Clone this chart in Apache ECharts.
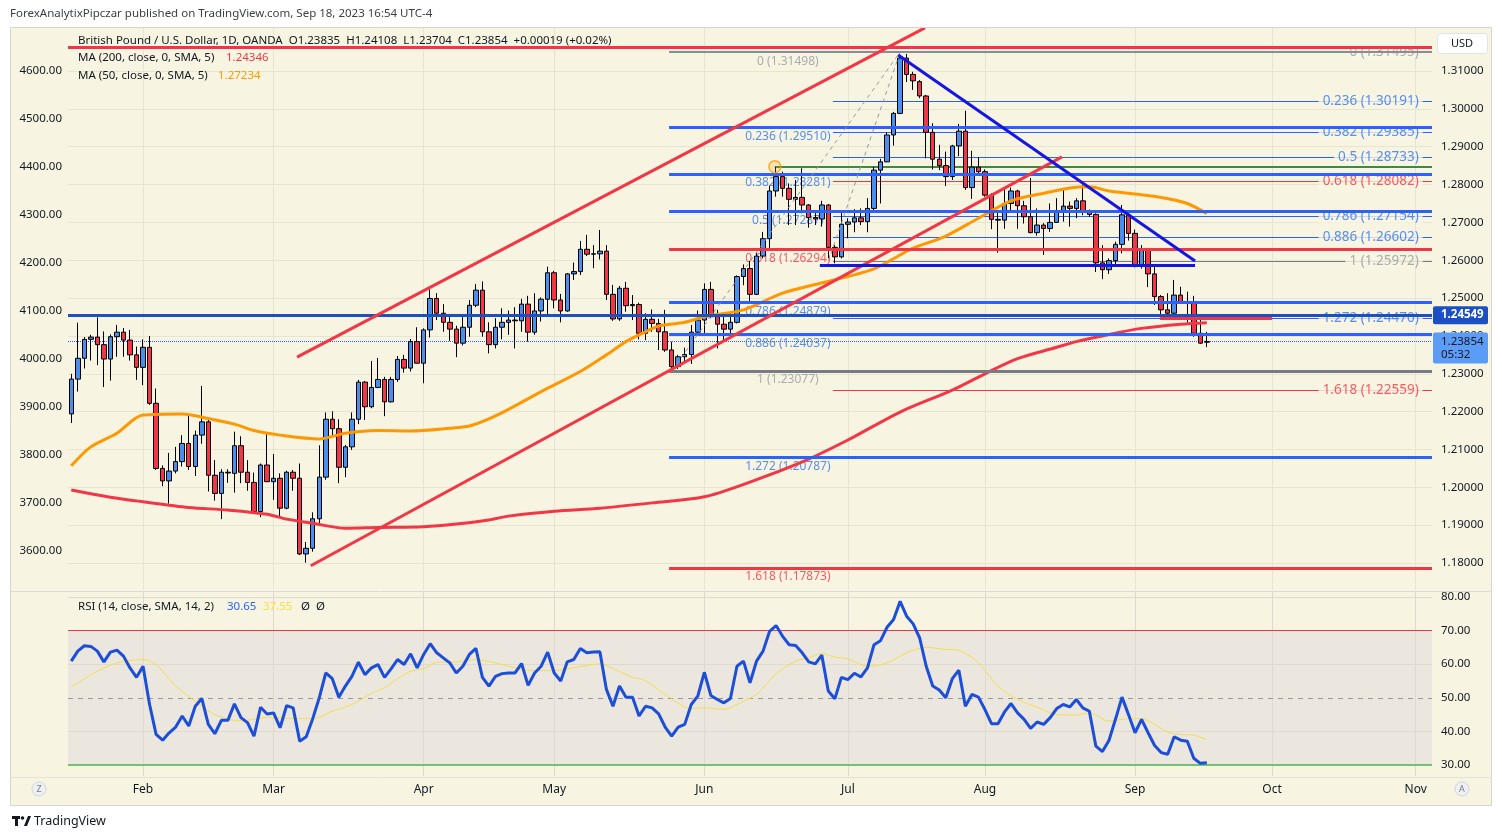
<!DOCTYPE html>
<html>
<head>
<meta charset="utf-8">
<script src="https://cdn.jsdelivr.net/npm/echarts@6/dist/echarts.min.js"></script>
<style>
  html, body { margin: 0; padding: 0; background: #fff; }
  #chart { width: 1502px; height: 839px; }
</style>
</head>
<body>
<div id="chart"></div>
<script>
// daily bars GBP/USD, [open, high, low, close], Jan 17 2023 -> Sep 18 2023
const ohlc = [
  [1.2194,1.2300,1.2170,1.2286],[1.2286,1.2435,1.2253,1.2341],[1.2341,1.2397,1.2314,1.2391],[1.2391,1.2403,1.2335,1.2397],
  [1.2397,1.2449,1.2323,1.2377],[1.2377,1.2412,1.2265,1.2339],[1.2339,1.2404,1.2282,1.2398],[1.2398,1.2429,1.2345,1.2410],
  [1.2410,1.2421,1.2345,1.2389],[1.2389,1.2416,1.2335,1.2350],[1.2350,1.2372,1.2284,1.2317],[1.2317,1.2391,1.2270,1.2370],
  [1.2370,1.2400,1.2218,1.2222],[1.2222,1.2261,1.2046,1.2050],[1.2050,1.2058,1.2003,1.2017],[1.2017,1.2091,1.1957,1.2043],
  [1.2043,1.2107,1.2037,1.2068],[1.2068,1.2138,1.2055,1.2116],[1.2116,1.2191,1.2046,1.2055],[1.2055,1.2150,1.2030,1.2138],
  [1.2138,1.2268,1.2115,1.2173],[1.2173,1.2180,1.1989,1.2032],[1.2032,1.2072,1.1965,1.1984],[1.1984,1.2048,1.1916,1.2040],
  [1.2040,1.2048,1.2012,1.2038],[1.2037,1.2147,1.1986,1.2110],[1.2110,1.2135,1.2011,1.2040],[1.2040,1.2072,1.1991,1.2013],
  [1.2013,1.2039,1.1931,1.1936],[1.1936,1.2063,1.1921,1.2059],[1.2059,1.2141,1.2015,1.2015],[1.2015,1.2088,1.1967,1.2024],
  [1.2024,1.2037,1.1923,1.1945],[1.1945,1.2044,1.1942,1.2040],[1.2040,1.2046,1.1991,1.2024],[1.2024,1.2063,1.1821,1.1824],
  [1.1824,1.1856,1.1801,1.1839],[1.1839,1.1934,1.1830,1.1917],[1.1917,1.2111,1.1903,1.2027],[1.2027,1.2198,1.2020,1.2180],
  [1.2180,1.2201,1.2134,1.2155],[1.2155,1.2180,1.2011,1.2053],[1.2053,1.2112,1.2027,1.2107],[1.2107,1.2198,1.2099,1.2180],
  [1.2180,1.2284,1.2167,1.2278],[1.2278,1.2281,1.2178,1.2213],[1.2213,1.2334,1.2209,1.2264],[1.2264,1.2342,1.2262,1.2285],
  [1.2285,1.2292,1.2188,1.2226],[1.2226,1.2292,1.2224,1.2285],[1.2285,1.2347,1.2279,1.2338],[1.2338,1.2350,1.2303,1.2315],
  [1.2315,1.2392,1.2306,1.2385],[1.2385,1.2423,1.2328,1.2328],[1.2328,1.2420,1.2275,1.2416],[1.2416,1.2523,1.2396,1.2499],
  [1.2499,1.2513,1.2442,1.2460],[1.2460,1.2484,1.2411,1.2436],[1.2436,1.2451,1.2387,1.2418],[1.2418,1.2427,1.2344,1.2381],
  [1.2381,1.2455,1.2375,1.2423],[1.2423,1.2495,1.2398,1.2481],[1.2481,1.2537,1.2476,1.2521],[1.2521,1.2544,1.2398,1.2411],
  [1.2411,1.2436,1.2354,1.2377],[1.2377,1.2447,1.2367,1.2423],[1.2423,1.2473,1.2391,1.2436],[1.2436,1.2467,1.2403,1.2442],
  [1.2442,1.2476,1.2367,1.2440],[1.2440,1.2498,1.2411,1.2484],[1.2484,1.2506,1.2385,1.2410],[1.2410,1.2513,1.2403,1.2466],
  [1.2466,1.2502,1.2438,1.2497],[1.2497,1.2583,1.2451,1.2567],[1.2567,1.2572,1.2473,1.2495],[1.2495,1.2511,1.2436,1.2466],
  [1.2466,1.2566,1.2464,1.2564],[1.2564,1.2594,1.2548,1.2570],[1.2570,1.2651,1.2561,1.2629],[1.2629,1.2667,1.2611,1.2616],
  [1.2616,1.2640,1.2579,1.2617],[1.2617,1.2680,1.2602,1.2624],[1.2624,1.2640,1.2495,1.2510],[1.2510,1.2535,1.2440,1.2445],
  [1.2445,1.2532,1.2440,1.2526],[1.2526,1.2543,1.2464,1.2480],[1.2480,1.2508,1.2442,1.2483],[1.2483,1.2488,1.2391,1.2407],
  [1.2407,1.2460,1.2389,1.2444],[1.2444,1.2470,1.2411,1.2433],[1.2433,1.2445,1.2363,1.2411],[1.2411,1.2469,1.2358,1.2363],
  [1.2363,1.2385,1.2310,1.2319],[1.2319,1.2350,1.2313,1.2345],[1.2345,1.2369,1.2332,1.2351],[1.2351,1.2429,1.2326,1.2410],
  [1.2410,1.2467,1.2401,1.2442],[1.2442,1.2539,1.2403,1.2523],[1.2523,1.2543,1.2447,1.2451],[1.2451,1.2469,1.2367,1.2431],
  [1.2431,1.2451,1.2389,1.2418],[1.2418,1.2460,1.2402,1.2436],[1.2436,1.2560,1.2433,1.2557],[1.2557,1.2589,1.2534,1.2578],
  [1.2578,1.2598,1.2486,1.2510],[1.2510,1.2622,1.2508,1.2611],[1.2611,1.2675,1.2605,1.2657],[1.2657,1.2797,1.2630,1.2783],
  [1.2783,1.2847,1.2768,1.2821],[1.2821,1.2834,1.2768,1.2790],[1.2790,1.2803,1.2693,1.2761],[1.2761,1.2812,1.2693,1.2766],
  [1.2766,1.2843,1.2724,1.2746],[1.2746,1.2748,1.2686,1.2713],[1.2713,1.2728,1.2693,1.2709],[1.2709,1.2757,1.2689,1.2746],
  [1.2746,1.2748,1.2605,1.2634],[1.2634,1.2640,1.2592,1.2609],[1.2609,1.2728,1.2605,1.2695],[1.2695,1.2711,1.2658,1.2701],
  [1.2701,1.2735,1.2674,1.2712],[1.2712,1.2737,1.2693,1.2702],[1.2702,1.2764,1.2674,1.2737],[1.2737,1.2847,1.2728,1.2838],
  [1.2838,1.2868,1.2750,1.2860],[1.2860,1.2938,1.2859,1.2931],[1.2931,1.2992,1.2903,1.2988],[1.2988,1.3140,1.2986,1.3134],
  [1.3134,1.3145,1.3071,1.3091],[1.3091,1.3098,1.3050,1.3074],[1.3072,1.3076,1.3028,1.3034],[1.3034,1.3037,1.2869,1.2938],
  [1.2938,1.2962,1.2840,1.2867],[1.2867,1.2905,1.2838,1.2850],[1.2850,1.2887,1.2796,1.2821],[1.2821,1.2905,1.2812,1.2902],
  [1.2902,1.2960,1.2875,1.2941],[1.2941,1.2995,1.2786,1.2792],[1.2792,1.2889,1.2762,1.2846],[1.2846,1.2872,1.2828,1.2834],
  [1.2834,1.2840,1.2768,1.2772],[1.2772,1.2777,1.2682,1.2708],[1.2708,1.2726,1.2620,1.2706],[1.2706,1.2790,1.2683,1.2750],
  [1.2750,1.2792,1.2728,1.2783],[1.2783,1.2786,1.2683,1.2744],[1.2744,1.2757,1.2697,1.2715],[1.2715,1.2817,1.2671,1.2673],
  [1.2673,1.2737,1.2665,1.2693],[1.2693,1.2698,1.2614,1.2684],[1.2684,1.2750,1.2675,1.2700],[1.2700,1.2764,1.2699,1.2728],
  [1.2728,1.2786,1.2702,1.2743],[1.2743,1.2755,1.2689,1.2737],[1.2737,1.2764,1.2711,1.2757],[1.2757,1.2799,1.2719,1.2731],
  [1.2731,1.2734,1.2715,1.2721],[1.2721,1.2724,1.2569,1.2593],[1.2593,1.2640,1.2550,1.2575],[1.2575,1.2605,1.2564,1.2599],
  [1.2599,1.2649,1.2585,1.2642],[1.2642,1.2746,1.2618,1.2720],[1.2720,1.2731,1.2652,1.2671],[1.2671,1.2681,1.2581,1.2586],
  [1.2586,1.2640,1.2578,1.2626],[1.2626,1.2629,1.2529,1.2564],[1.2564,1.2587,1.2482,1.2504],[1.2504,1.2508,1.2447,1.2469],
  [1.2469,1.2513,1.2451,1.2460],[1.2460,1.2548,1.2458,1.2508],[1.2508,1.2530,1.2486,1.2490],[1.2490,1.2517,1.2435,1.2488],
  [1.2489,1.2506,1.2398,1.2407],[1.2407,1.2444,1.2379,1.2381],[1.23835,1.24108,1.23704,1.23854]
];

// moving averages, [bar index, value]
const ma50Points = [[0,1.2057],[3,1.2107],[7,1.2143],[11,1.2191],[17,1.2194],[21,1.2182],[25,1.2167],[28,1.2150],
  [32,1.2138],[38,1.2128],[42,1.2143],[47,1.2150],[52,1.2149],[58,1.2156],[61,1.2162],[64,1.2181],[67,1.2206],
  [73,1.2262],[78,1.2306],[82,1.2350],[85,1.2385],[88,1.2411],[90,1.2426],[94,1.2436],[97,1.2451],[99,1.2457],
  [103,1.2469],[109,1.2513],[114,1.2536],[119,1.2557],[123,1.2577],[127,1.2614],[129,1.2632],[134,1.2664],
  [139,1.2711],[144,1.2757],[149,1.2777],[154,1.2793],[156,1.2794],[159,1.2783],[162,1.2777],[167,1.2766],
  [171,1.2750],[174,1.2723]];
const ma200Points = [[0,1.1993],[6,1.1974],[11,1.1962],[18,1.1947],[24,1.1940],[30,1.1929],[33,1.1916],[37,1.1905],
  [42,1.1892],[47,1.1894],[54,1.1896],[59,1.1903],[64,1.1914],[67,1.1924],[74,1.1937],[81,1.1945],[89,1.1959],
  [97,1.1975],[104,1.2014],[112,1.2067],[119,1.2125],[127,1.2199],[135,1.2257],[140,1.2300],[145,1.2340],
  [151,1.2370],[154,1.2385],[159,1.2404],[164,1.2420],[170,1.2431],[174,1.2435]];

const rsiValues = [60.9,63.9,65.5,65.3,63.9,60.7,63.6,64.2,62.4,58.9,56.1,59.4,48.0,39.1,37.4,39.6,41.3,44.6,41.6,47.5,
  49.8,42.1,39.3,43.3,43.3,48.2,44.1,42.6,38.6,47.2,45.2,45.5,41.1,47.7,47.0,37.1,38.4,43.8,50.0,57.4,55.7,50.2,53.5,
  56.4,60.6,56.9,58.9,59.9,56.1,58.6,61.4,59.9,63.1,58.9,62.9,66.1,63.4,61.9,60.4,57.4,
  59.4,62.9,64.7,56.1,53.5,56.4,57.2,57.4,57.4,60.2,53.7,57.4,59.4,63.6,57.4,55.0,60.7,61.4,64.7,63.4,63.6,63.7,52.5,
  47.5,53.5,50.2,50.2,44.6,47.5,47.0,45.2,41.3,38.6,41.3,42.1,48.0,50.5,57.6,50.7,49.5,48.5,49.8,59.4,60.9,54.5,60.9,
  63.9,69.8,71.5,68.3,65.8,65.6,63.4,60.7,60.1,62.7,52.0,49.7,
  56.1,55.4,57.3,56.2,58.9,65.8,67.0,71.0,73.3,78.7,74.3,72.0,67.8,59.4,53.5,52.3,50.0,55.7,58.2,47.5,51.0,50.2,46.5,
  42.3,42.3,45.8,48.3,45.5,43.6,40.9,42.8,42.1,44.1,46.8,48.0,47.3,49.5,47.0,46.0,35.6,34.0,37.3,43.6,50.2,45.0,39.6,
  43.6,39.6,35.8,33.7,33.2,38.4,37.4,37.1,32.0,30.5,30.65];
const rsiMaPoints = [[0,53.2],[4,57.9],[7,60.4],[11,61.4],[13,59.9],[16,53.5],[19,49.0],[22,45.0],[26,43.1],[30,44.2],
  [34,43.8],[37,43.8],[40,46.0],[43,48.0],[46,51.3],[48,53.0],[50,55.7],[52,57.9],[54,58.7],[56,60.6],[59,60.7],
  [62,61.4],[66,59.9],[70,58.2],[74,58.1],[78,59.3],[81,60.1],[83,58.7],[86,56.1],[88,55.1],[91,51.0],[95,46.8],
  [97,47.0],[100,46.6],[103,49.0],[105,51.0],[108,57.1],[111,60.9],[113,61.9],[115,63.2],[117,62.1],[119,61.6],
  [122,59.4],[125,60.4],[128,63.4],[131,65.0],[134,64.4],[136,64.1],[139,60.4],[142,53.5],[145,49.5],[148,47.2],
  [151,45.0],[154,44.9],[156,45.5],[159,43.1],[162,43.8],[164,43.8],[166,42.1],[168,39.8],[170,39.1],[172,38.9],[174,37.55]];

const priceTicks = [1.18,1.19,1.20,1.21,1.22,1.23,1.24,1.25,1.26,1.27,1.28,1.29,1.30,1.31];
const leftTicks = [3600,3700,3800,3900,4000,4100,4200,4300,4400,4500,4600];
const rsiTicks = [30,40,50,60,70,80];
const monthNames = ['Jan','Feb','Mar','Apr','May','Jun','Jul','Aug','Sep','Oct','Nov','Dec'];

// two fibonacci tools
const fibRatios = ['0','0.236','0.382','0.5','0.618','0.786','0.886','1','1.272','1.618'];
const fibAPrices = [1.31498,1.29510,1.28281,1.27287,1.26294,1.24879,1.24037,1.23077,1.20787,1.17873];
const fibBPrices = [1.31495,1.30191,1.29385,1.28733,1.28082,1.27154,1.26602,1.25972,1.24470,1.22559];

// weekday slots from Jan 17 2023, running past the last bar
const slotCount = 209;
const dates = [];
(function () {
  const d = new Date(Date.UTC(2023, 0, 17));
  while (dates.length < slotCount) {
    const wd = d.getUTCDay();
    if (wd !== 0 && wd !== 6) dates.push(d.toISOString().slice(0, 10));
    d.setUTCDate(d.getUTCDate() + 1);
  }
})();
const monthStarts = [];
dates.forEach((d, i) => { if (i > 0 && d.slice(5, 7) !== dates[i - 1].slice(5, 7)) monthStarts.push(i); });

const PRICE_MIN = 1.17288, PRICE_MAX = 1.32136;
const LEFT_MIN = 3518.75, LEFT_MAX = 4689.6;
const RSI_MIN = 26.73, RSI_MAX = 81.49;
const X_MIN = -0.5, X_MAX = slotCount - 0.5;

const FONT = 'Noto Sans';
const BG = '#f7f5e2';
const RED = '#f23645', BLUE = '#2962ff', GRAY = '#787b86';
const fibColor = r => (r === '0' || r === '1') ? GRAY : (r === '0.618' || r === '1.618') ? RED : BLUE;
const fibText = r => (r === '0' || r === '1') ? '#9598a1' : (r === '0.618' || r === '1.618') ? RED : '#3274f0';

function seg(list, x1, y1, x2, y2, color, width, type) {
  list.push({ coords: [[x1, y1], [x2, y2]], lineStyle: { color: color, width: width, type: type || 'solid', opacity: 1 } });
}

// grid lines
const gridMain = [], gridRsi = [], rsiLevels = [];
priceTicks.forEach(t => seg(gridMain, X_MIN, t, X_MAX, t, '#e7e4cf', 1));
monthStarts.forEach(i => seg(gridMain, i, PRICE_MIN, i, PRICE_MAX, '#e7e4cf', 1));
[40, 60, 80].forEach(t => seg(gridRsi, X_MIN, t, X_MAX, t, '#dedad0', 1));
monthStarts.forEach(i => seg(gridRsi, i, RSI_MIN, i, RSI_MAX, '#dedad0', 1));
seg(rsiLevels, X_MIN, 70, X_MAX, 70, RED, 1);
seg(rsiLevels, X_MIN, 50, X_MAX, 50, '#9598a1', 1, [5, 5]);
seg(rsiLevels, X_MIN, 30, X_MAX, 30, '#4caf50', 1.5);

// drawings
const thin = [], thick = [];
fibRatios.forEach((r, i) => seg(thin, 116.7, fibBPrices[i], X_MAX, fibBPrices[i], fibColor(r), 1));
seg(thin, 107.8, 1.2847, X_MAX, 1.2847, '#388e3c', 2);
seg(thin, X_MIN, 1.23854, X_MAX, 1.23854, '#2962ff', 1, 'dotted');
fibRatios.forEach((r, i) => seg(thick, 91.6, fibAPrices[i], X_MAX, fibAPrices[i], r === '0' ? '#8a8d96' : fibColor(r), r === '0' ? 2 : 3));
seg(thick, 92, 1.23077, 127, 1.31498, '#9598a1', 1, [4, 4]);
seg(thick, 116, 1.25972, 127, 1.31495, '#9598a1', 1, [4, 4]);
seg(thick, X_MIN, 1.3162, X_MAX, 1.3162, RED, 3);
seg(thick, X_MIN, 1.24549, X_MAX, 1.24549, '#1b4fc4', 3);
seg(thick, 34.6, 1.2344, 130.8, 1.3214, RED, 3);
seg(thick, 36.7, 1.1793, 151.8, 1.2873, RED, 3);
seg(thick, 126.7, 1.3142, 172.2, 1.2598, '#1515e6', 3);
seg(thick, 114.7, 1.2588, 172.2, 1.2588, '#1515e6', 3);
seg(thick, 166.8, 1.2446, 184.0, 1.2446, RED, 3);

const labelsA = fibRatios.map((r, i) => ({
  value: [109.8, fibAPrices[i]],
  label: { formatter: r + ' (' + fibAPrices[i].toFixed(5) + ')', color: fibText(r) }
}));
const labelsB = fibRatios.map((r, i) => ({
  value: [208.3, fibBPrices[i]],
  label: { formatter: r + ' (' + fibBPrices[i].toFixed(5) + ')', color: fibText(r) }
}));

const chart = echarts.init(document.getElementById('chart'));

const linesSeries = (data, xi, yi, z) => ({
  type: 'lines', coordinateSystem: 'cartesian2d', xAxisIndex: xi, yAxisIndex: yi,
  polyline: false, silent: true, z: z, clip: true, animation: false, data: data
});

chart.setOption({
  animation: false,
  backgroundColor: '#ffffff',
  textStyle: { fontFamily: FONT },
  grid: [
    { left: 68, top: 28, width: 1364, height: 562 },
    { left: 68, top: 592, width: 1364, height: 184 }
  ],
  xAxis: [
    { type: 'category', gridIndex: 0, data: dates, show: false },
    { type: 'value', gridIndex: 0, min: X_MIN, max: X_MAX, show: false },
    {
      type: 'category', gridIndex: 1, data: dates,
      axisLine: { show: false }, axisTick: { show: false }, splitLine: { show: false },
      axisLabel: {
        interval: (i) => monthStarts.indexOf(i) >= 0,
        formatter: (v) => monthNames[parseInt(v.slice(5, 7), 10) - 1],
        color: '#131722', fontSize: 12, margin: 8, fontFamily: FONT
      }
    },
    { type: 'value', gridIndex: 1, min: X_MIN, max: X_MAX, show: false }
  ],
  yAxis: [
    {
      type: 'value', gridIndex: 0, position: 'right', min: PRICE_MIN, max: PRICE_MAX,
      axisLine: { show: false }, axisTick: { show: false }, splitLine: { show: false },
      axisLabel: { customValues: priceTicks, formatter: v => v.toFixed(5), color: '#131722', fontSize: 11.5, margin: 9, fontFamily: FONT }
    },
    {
      type: 'value', gridIndex: 0, position: 'left', min: LEFT_MIN, max: LEFT_MAX,
      axisLine: { show: false }, axisTick: { show: false }, splitLine: { show: false },
      axisLabel: { customValues: leftTicks, formatter: v => v.toFixed(2), color: '#131722', fontSize: 11.5, margin: 6, fontFamily: FONT }
    },
    {
      type: 'value', gridIndex: 1, position: 'right', min: RSI_MIN, max: RSI_MAX,
      axisLine: { show: false }, axisTick: { show: false }, splitLine: { show: false },
      axisLabel: { customValues: rsiTicks, formatter: v => v.toFixed(2), color: '#131722', fontSize: 11.5, margin: 9, fontFamily: FONT }
    }
  ],
  series: [
    {
      name: 'rsiBand', type: 'line', xAxisIndex: 3, yAxisIndex: 2, data: [[0, 50]], showSymbol: false,
      lineStyle: { opacity: 0 }, silent: true, z: 0,
      markArea: { silent: true, itemStyle: { color: '#ebe6de' }, data: [[{ yAxis: 70 }, { yAxis: 30 }]] }
    },
    linesSeries(gridMain, 1, 0, 1),
    linesSeries(gridRsi, 3, 2, 1),
    linesSeries(rsiLevels, 3, 2, 2),
    linesSeries(thin, 1, 0, 2),
    {
      name: 'fibA labels', type: 'scatter', xAxisIndex: 1, yAxisIndex: 0, symbolSize: 0, silent: true, z: 3,
      itemStyle: { color: 'rgba(0,0,0,0)' },
      label: { show: true, position: 'bottom', distance: 3, fontSize: 12, fontFamily: FONT },
      data: labelsA
    },
    {
      name: 'GBPUSD', type: 'candlestick', xAxisIndex: 0, yAxisIndex: 0, barWidth: 5, z: 4,
      data: ohlc.map(r => [r[0], r[3], r[2], r[1]]),
      itemStyle: { color: '#4a8ff0', color0: '#f23645', borderColor: '#000000', borderColor0: '#000000', borderWidth: 1 }
    },
    {
      name: 'MA 200', type: 'line', xAxisIndex: 1, yAxisIndex: 0, data: ma200Points, smooth: 0.3,
      showSymbol: false, z: 5, lineStyle: { color: '#f23645', width: 3 }
    },
    {
      name: 'MA 50', type: 'line', xAxisIndex: 1, yAxisIndex: 0, data: ma50Points, smooth: 0.3,
      showSymbol: false, z: 5, lineStyle: { color: '#ff9800', width: 3 }
    },
    {
      name: 'fibB labels', type: 'scatter', xAxisIndex: 1, yAxisIndex: 0, symbolSize: 0, silent: true, z: 6,
      itemStyle: { color: 'rgba(0,0,0,0)' },
      label: { show: true, position: 'left', distance: 8, fontSize: 13.5, fontFamily: FONT, backgroundColor: BG, padding: [0, 4] },
      data: labelsB
    },
    linesSeries(thick, 1, 0, 7),
    {
      name: 'marker', type: 'scatter', xAxisIndex: 1, yAxisIndex: 0, symbolSize: 12, silent: true, z: 8,
      itemStyle: { color: 'rgba(255,152,0,0.25)', borderColor: '#ff9800', borderWidth: 1.5 },
      data: [[107.8, 1.2847]]
    },
    {
      name: 'RSI MA', type: 'line', xAxisIndex: 3, yAxisIndex: 2, data: rsiMaPoints, smooth: 0.3,
      showSymbol: false, z: 5, lineStyle: { color: '#f3e04c', width: 1 }
    },
    {
      name: 'RSI', type: 'line', xAxisIndex: 2, yAxisIndex: 2, data: rsiValues,
      showSymbol: false, z: 6, lineStyle: { color: '#1c4ed8', width: 3 }
    }
  ]
});

// decorations: frame, legends and axis price tags
const yLast = chart.convertToPixel({ yAxisIndex: 0 }, 1.23854);
const yLevel = chart.convertToPixel({ yAxisIndex: 0 }, 1.24549);
const txt = (x, y, text, color, size, extra) => Object.assign({
  type: 'text', x: x, y: y, silent: true, z: 20,
  style: { text: text, fill: color, font: (size || 11.5) + 'px "' + FONT + '"', verticalAlign: 'middle' }
}, extra || {});

chart.setOption({
  graphic: [
    { type: 'rect', shape: { x: 10.5, y: 27.5, width: 1481, height: 778 }, style: { fill: BG, stroke: '#d6d6d0' }, z: -10, silent: true },
    { type: 'line', shape: { x1: 10, y1: 591.5, x2: 1492, y2: 591.5 }, style: { stroke: '#dcdcd4', lineWidth: 1 }, z: 15, silent: true },
    { type: 'line', shape: { x1: 10, y1: 777.5, x2: 1492, y2: 777.5 }, style: { stroke: '#e4e2d6', lineWidth: 1 }, z: 15, silent: true },
    txt(10, 14, 'ForexAnalytixPipczar published on TradingView.com, Sep 18, 2023 16:54 UTC-4', '#3d3f48', 11.5),
    txt(78, 41, 'British Pound / U.S. Dollar, 1D, OANDA  O1.23835  H1.24108  L1.23704  C1.23854  +0.00019 (+0.02%)', '#131722', 11.5),
    txt(78, 58, 'MA (200, close, 0, SMA, 5)', '#131722', 11.5),
    txt(226, 58, '1.24346', '#f23645', 11.5),
    txt(78, 76, 'MA (50, close, 0, SMA, 5)', '#131722', 11.5),
    txt(218, 76, '1.27234', '#ff9800', 11.5),
    txt(78, 607, 'RSI (14, close, SMA, 14, 2)', '#131722', 11.5),
    txt(227, 607, '30.65', '#2962ff', 11.5),
    txt(263, 607, '37.55', '#f3e04c', 11.5),
    txt(301, 607, 'Ø', '#131722', 11.5),
    txt(316, 607, 'Ø', '#131722', 11.5),
    { type: 'rect', shape: { x: 1437.5, y: 33.5, width: 50, height: 20, r: 3 }, style: { fill: '#ffffff', stroke: '#e0e3eb' }, z: 20, silent: true },
    txt(1462, 44, 'USD', '#131722', 11, { style: { text: 'USD', fill: '#131722', font: '11px "' + FONT + '"', align: 'center', verticalAlign: 'middle' } }),
    { type: 'rect', shape: { x: 1433, y: yLevel - 9, width: 55, height: 18, r: 2 }, style: { fill: '#1b4fc4' }, z: 20, silent: true },
    txt(1441, yLevel, '1.24549', '#ffffff', 11, { style: { text: '1.24549', fill: '#ffffff', font: 'bold 11.5px "' + FONT + '"', verticalAlign: 'middle' } }),
    { type: 'rect', shape: { x: 1433, y: yLast - 9, width: 55, height: 31, r: 2 }, style: { fill: '#5b9cf6' }, z: 20, silent: true },
    txt(1441, yLast, '1.23854', '#131722', 11.5),
    txt(1441, yLast + 13, '05:32', '#131722', 11.5),
    { type: 'circle', shape: { cx: 39, cy: 789, r: 7 }, style: { fill: '#eef0f3', stroke: '#d1d4dc' }, z: 20, silent: true },
    txt(39, 789, 'Z', '#787b86', 9, { style: { text: 'Z', fill: '#787b86', font: '9px "' + FONT + '"', align: 'center', verticalAlign: 'middle' } }),
    { type: 'circle', shape: { cx: 1462, cy: 789, r: 7 }, style: { fill: '#eef0f3', stroke: '#d1d4dc' }, z: 20, silent: true },
    txt(1462, 789, 'A', '#787b86', 9, { style: { text: 'A', fill: '#787b86', font: '9px "' + FONT + '"', align: 'center', verticalAlign: 'middle' } }),
    { type: 'rect', shape: { x: 12, y: 816, width: 8, height: 3 }, style: { fill: '#131722' }, z: 20, silent: true },
    { type: 'rect', shape: { x: 15, y: 816, width: 3, height: 10 }, style: { fill: '#131722' }, z: 20, silent: true },
    { type: 'circle', shape: { cx: 22.5, cy: 818, r: 1.8 }, style: { fill: '#131722' }, z: 20, silent: true },
    { type: 'polygon', shape: { points: [[24, 826], [28, 816], [31, 816], [27, 826]] }, style: { fill: '#131722' }, z: 20, silent: true },
    txt(34, 821, 'TradingView', '#131722', 12.5)
  ]
});
</script>
</body>
</html>
